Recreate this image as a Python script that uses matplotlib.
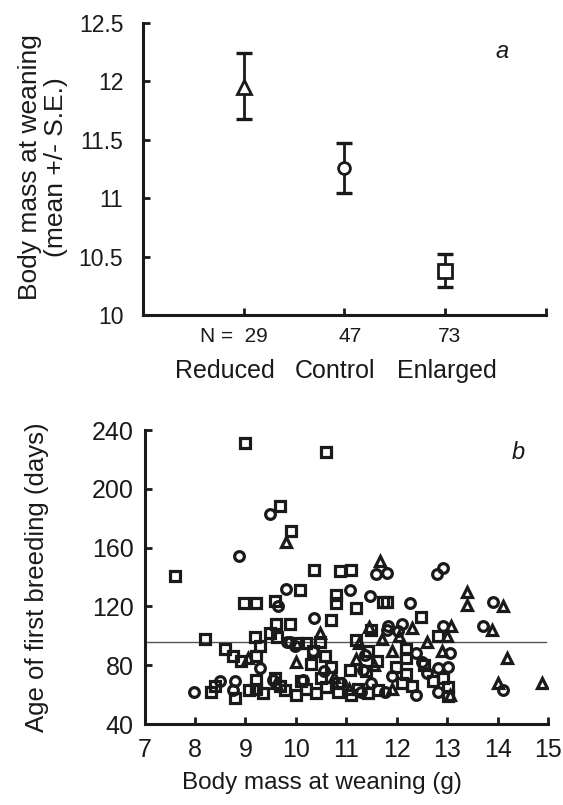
import matplotlib as mpl
mpl.use("Agg")
import matplotlib.pyplot as plt

plt.rcParams['font.family'] = ['Liberation Sans', 'DejaVu Sans']

INK = '#1a1a1a'

# panel a: group means and S.E.
groups = ['Reduced', 'Control', 'Enlarged']
group_n = [29, 47, 73]
group_mean = [11.95, 11.26, 10.38]
group_lo = [11.68, 11.04, 10.24]
group_hi = [12.24, 11.47, 10.52]
group_marker = ['^', 'o', 's']
group_ms = [9.5, 8.5, 10]

# panel b: body mass at weaning (g) vs age of first breeding (days)
reduced_x = [9.81, 9.05, 10.0, 10.47, 11.19, 11.46, 11.7, 11.66, 11.9, 12.3,
             13.08, 12.9, 13.4, 13.4, 14.1, 13.88, 14.19, 14.0, 14.89, 11.05,
             11.25, 12.05, 11.55, 13.0, 12.6, 10.75, 9.6, 11.9, 13.05]
reduced_y = [164, 85, 82, 102, 84, 106, 98, 151, 90, 105,
             107, 90, 130, 121, 120, 104, 85, 68, 68, 64,
             95, 100, 80, 100, 96, 72, 68, 64, 60]

control_x = [9.48, 8.88, 9.64, 9.80, 10.37, 11.07, 11.48, 11.58, 11.81, 12.79,
             12.92, 12.26, 13.71, 13.9, 11.83, 12.1, 12.03, 12.39, 11.9, 11.76,
             12.39, 12.82, 13.02, 12.82, 12.92, 9.83, 9.98, 9.88, 9.28, 7.99,
             8.49, 8.79, 8.75, 9.55, 10.15, 10.9, 11.37, 11.8, 14.1, 11.33,
             10.55, 11.5, 12.6, 11.3, 10.35, 13.05, 12.5]
control_y = [183, 154, 120, 132, 112, 131, 127, 142, 143, 142,
             146, 122, 107, 123, 107, 108, 103, 88, 73, 62,
             60, 78, 79, 62, 107, 96, 93, 96, 78, 62,
             69, 69, 63, 70, 70, 68, 87, 104, 63, 77,
             76, 68, 75, 62, 90, 88, 82]

enlarged_x = [9.0, 10.6, 7.6, 9.69, 9.91, 8.98, 9.22, 9.58, 10.09, 10.37,
              10.87, 11.1, 10.8, 10.8, 11.73, 11.2, 10.7, 12.49, 11.8, 9.88,
              9.61, 9.63, 9.48, 9.2, 9.29, 8.19, 8.59, 8.75, 8.92, 9.22,
              10.04, 10.2, 10.47, 10.34, 10.31, 10.57, 10.7, 11.2, 11.5, 11.43,
              11.6, 12.19, 12.19, 12.19, 11.99, 12.1, 12.82, 12.72, 12.92, 13.02,
              13.02, 8.32, 8.39, 8.79, 9.08, 9.22, 9.22, 9.35, 9.58, 9.68,
              9.78, 10.01, 10.2, 10.4, 10.6, 10.84, 11.1, 11.23, 11.43, 11.63,
              10.11, 10.5, 10.84, 11.07, 11.4, 12.55, 12.3]
enlarged_y = [231, 225, 141, 188, 171, 122, 122, 124, 131, 145,
              144, 145, 128, 122, 123, 119, 111, 113, 123, 108,
              108, 99, 102, 99, 93, 98, 91, 86, 83, 86,
              95, 95, 96, 90, 81, 86, 79, 97, 104, 90,
              83, 91, 85, 74, 79, 68, 100, 69, 71, 65,
              59, 62, 66, 58, 63, 70, 64, 61, 71, 66,
              63, 60, 64, 61, 65, 62, 60, 64, 61, 63,
              69, 71, 68, 77, 76, 80, 66]

breeding_mean = 96
line_x = [7, 14.95]


def style_axes(ax):
    for side in ['top', 'right']:
        ax.spines[side].set_visible(False)
    for side in ['left', 'bottom']:
        ax.spines[side].set_linewidth(2.2)
        ax.spines[side].set_color(INK)
    ax.tick_params(direction='in', length=5, width=2, color=INK, labelcolor=INK)


fig = plt.figure(figsize=(5.63, 8.05), dpi=100)

# ---- panel a
ax1 = fig.add_axes([0.2535, 0.6087, 0.7164, 0.3631])
style_axes(ax1)
for i in range(3):
    pos = i + 1
    ax1.errorbar([pos], [group_mean[i]],
                 yerr=[[group_mean[i] - group_lo[i]], [group_hi[i] - group_mean[i]]],
                 fmt='none', ecolor=INK, elinewidth=2, capsize=6, capthick=2.4, zorder=2)
    ax1.plot([pos], [group_mean[i]], marker=group_marker[i], ms=group_ms[i],
             mfc='white', mec=INK, mew=2, ls='none', zorder=3)
ax1.set_xlim(0, 4)
ax1.set_ylim(10, 12.5)
ax1.set_xticks([1, 2, 3, 4])
ax1.set_xticklabels([])
ax1.set_yticks([10, 10.5, 11, 11.5, 12, 12.5])
ax1.set_yticklabels(['10', '10.5', '11', '11.5', '12', '12.5'])
ax1.tick_params(axis='y', labelsize=16.5, pad=14)

trans = ax1.get_xaxis_transform()
ax1.text(1.24, -0.075, 'N =  %d' % group_n[0], transform=trans, ha='right', va='center',
         fontsize=15, color=INK)
ax1.text(2.06, -0.075, '%d' % group_n[1], transform=trans, ha='center', va='center',
         fontsize=15, color=INK)
ax1.text(3.04, -0.075, '%d' % group_n[2], transform=trans, ha='center', va='center',
         fontsize=15, color=INK)
for cx, name in zip([0.81, 1.91, 3.02], groups):
    ax1.text(cx, -0.19, name, transform=trans, ha='center', va='center',
             fontsize=18, color=INK)
ax1.text(3.56, 12.25, 'a', ha='center', va='center', fontsize=17, style='italic', color=INK)

fig.text(43 / 563, 1 - 167 / 805, 'Body mass at weaning\n(mean +/- S.E.)', rotation=90,
         ha='center', va='center', fontsize=19, color=INK, linespacing=1.1)

# ---- panel b
ax2 = fig.add_axes([0.2567, 0.1006, 0.7167, 0.3652])
style_axes(ax2)
ax2.plot(line_x, [breeding_mean, breeding_mean], color='#555555', lw=1, zorder=1)
ax2.plot(reduced_x, reduced_y, ls='none', marker='^', ms=7.5, mfc='none', mec=INK, mew=2.3)
ax2.plot(control_x, control_y, ls='none', marker='o', ms=7, mfc='none', mec=INK, mew=2.3)
ax2.plot(enlarged_x, enlarged_y, ls='none', marker='s', ms=6.5, mfc='none', mec=INK, mew=2.3)
ax2.set_xlim(7, 15)
ax2.set_ylim(40, 240)
ax2.set_xticks(range(7, 16))
ax2.set_yticks(range(40, 241, 40))
ax2.tick_params(axis='y', labelsize=18, pad=8)
ax2.tick_params(axis='x', labelsize=18, pad=10)
ax2.text(14.4, 225, 'b', ha='center', va='center', fontsize=17, style='italic', color=INK)

fig.text(322 / 563, 1 - 783 / 805, 'Body mass at weaning (g)', ha='center', va='center',
         fontsize=17.5, color=INK)
fig.text(37 / 563, 1 - 577 / 805, 'Age of first breeding (days)', rotation=90,
         ha='center', va='center', fontsize=18.5, color=INK)

fig.savefig('out.png', dpi=100)
